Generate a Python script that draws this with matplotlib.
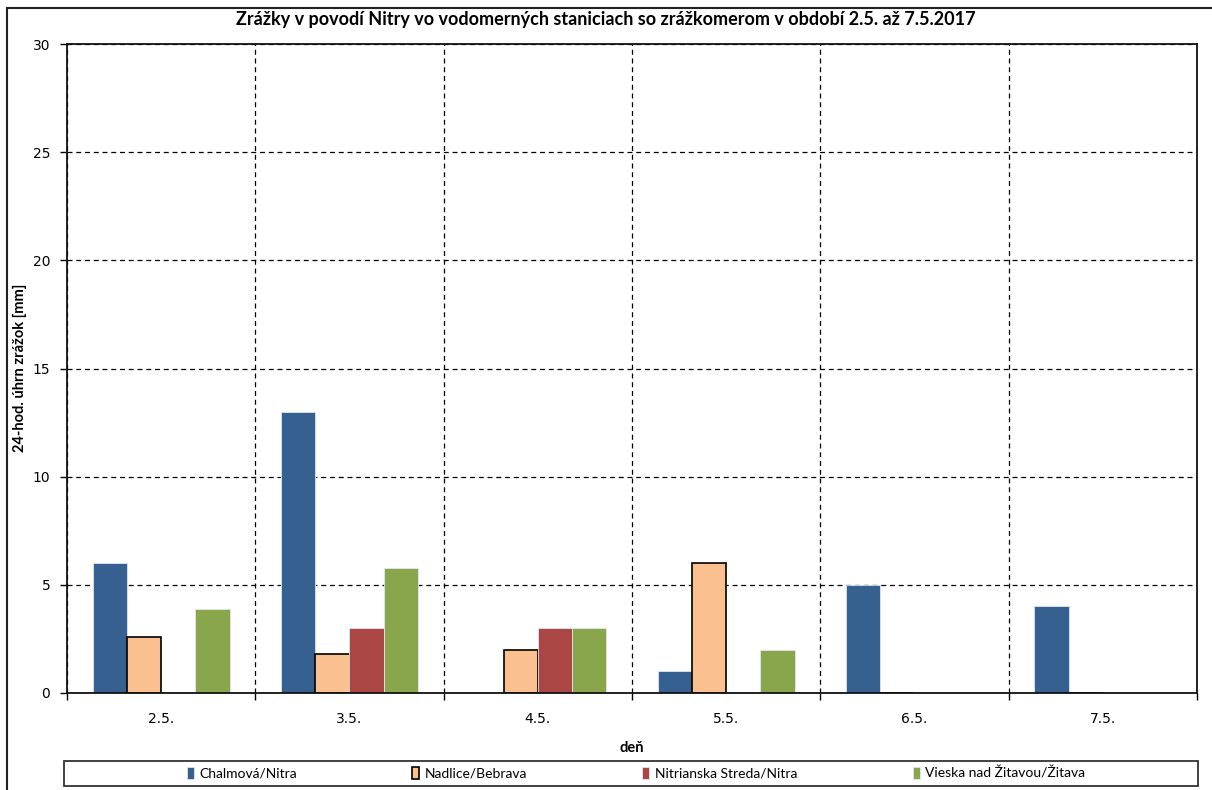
import numpy as np
import matplotlib
matplotlib.use("Agg")
from matplotlib import pyplot as plt
from matplotlib.patches import Rectangle
from matplotlib.lines import Line2D

# Daily precipitation totals [mm]
days = ["2.5.", "3.5.", "4.5.", "5.5.", "6.5.", "7.5."]
chalmova = [6.0, 13.0, 0.0, 1.0, 5.0, 4.0]
nadlice = [2.6, 1.8, 2.0, 6.0, 0.0, 0.0]
nitrianska = [0.0, 3.0, 3.0, 0.0, 0.0, 0.0]
vieska = [3.9, 5.8, 3.0, 2.0, 0.0, 0.0]
stations = ["Chalmová/Nitra", "Nadlice/Bebrava", "Nitrianska Streda/Nitra", "Vieska nad Žitavou/Žitava"]
colors = ["#36608f", "#fac090", "#aa4643", "#8aa64c"]

narrow = ["Lato", "DejaVu Sans"]

W, H = 1212, 790
fig = plt.figure(figsize=(W / 100, H / 100), dpi=100)
ax = fig.add_axes([67 / W, 1 - 693 / H, 1130 / W, 649 / H])

x = np.arange(len(days))
width = 1 / 5.5
series = [chalmova, nadlice, nitrianska, vieska]
for i, (vals, col) in enumerate(zip(series, colors)):
    offs = (i - 1.5) * width
    if i == 1:
        ax.bar(x + offs, vals, width, color=col, edgecolor="black", linewidth=1.2, zorder=3, label=stations[i])
    else:
        ax.bar(x + offs, vals, width, color=col, edgecolor="#dfe6ee", linewidth=0.6, zorder=3, label=stations[i])

ax.set_xlim(-0.5, len(days) - 0.5)
ax.set_ylim(0, 30)
ax.set_yticks(np.arange(0, 31, 5))
ax.set_xticks(x)
ax.set_xticklabels(days)
ax.set_xticks(np.arange(-0.5, len(days), 1), minor=True)

ax.tick_params(axis="x", which="major", length=0, pad=14, labelsize=10)
ax.tick_params(axis="x", which="minor", length=5, width=1, direction="out")
ax.tick_params(axis="y", length=5, width=1, direction="out", pad=7, labelsize=10)

ax.grid(True, axis="y", which="major", color="black", linestyle=(0, (4, 3)), linewidth=0.9, zorder=1)
ax.grid(True, axis="x", which="minor", color="black", linestyle=(0, (4, 3)), linewidth=0.9, zorder=1)
for s in ax.spines.values():
    s.set_linewidth(1.3)
    s.set_color("#111111")
    s.set_zorder(4)

fig.text(20 / W, 1 - 368 / H, "24-hod. úhrn zrážok [mm]", rotation=90, ha="center", va="center",
         family=narrow, fontweight="bold", fontsize=10.5)
ax.set_xlabel("deň", family=narrow, fontweight="bold", fontsize=10.5)
ax.xaxis.set_label_coords(0.5, (693 - 741) / 649)

fig.text(606 / W, 1 - 20 / H, "Zrážky v povodí Nitry vo vodomerných staniciach so zrážkomerom v období 2.5. až 7.5.2017",
         ha="center", va="center", family=narrow, fontweight="bold", fontsize=13)

# legend box below the plot
fig.patches.append(Rectangle((64 / W, 1 - 786 / H), 1134 / W, 25 / H, transform=fig.transFigure,
                             facecolor="white", edgecolor="#333333", linewidth=1.3, zorder=-1))
leg = fig.legend(*ax.get_legend_handles_labels(), loc="center", bbox_to_anchor=(636 / W, 1 - 773.5 / H),
                 ncol=4, frameon=False, prop={"family": narrow, "size": 10},
                 handlelength=0.5, handleheight=0.9, handletextpad=0.4, columnspacing=8.3)
leg.set_zorder(5)

# outer chart frame
fig.add_artist(Line2D([7 / W, 7 / W], [0, 1 - 8 / H], transform=fig.transFigure, color="#222222", linewidth=1.5))
fig.add_artist(Line2D([7 / W, 1], [1 - 8 / H, 1 - 8 / H], transform=fig.transFigure, color="#222222", linewidth=1.5))

fig.savefig("out.png", dpi=100)
